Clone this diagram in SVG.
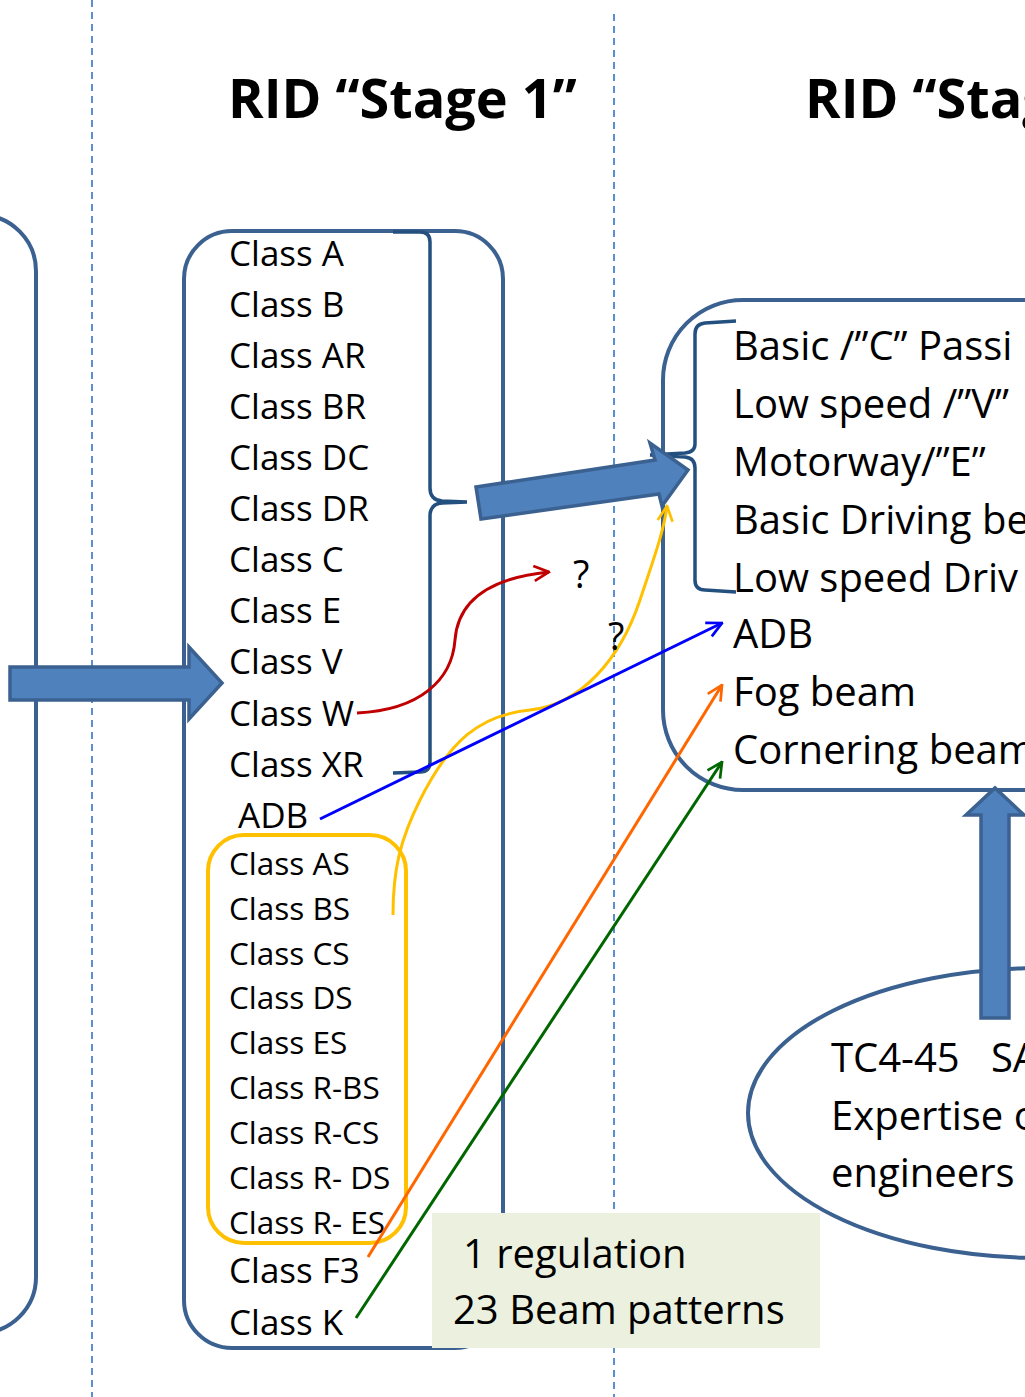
<svg xmlns="http://www.w3.org/2000/svg" width="1025" height="1397" viewBox="0 0 1025 1397">
<style>
.frame{fill:none;stroke:#3b6191;stroke-width:4}
.brace{fill:none;stroke:#24507f;stroke-width:3.5}
.dash{stroke:#5b8fd0;stroke-width:2;stroke-dasharray:7 5}
.block{fill:#4f81bd;stroke:#3b6191;stroke-width:3.5;stroke-linejoin:miter}
.t{font-family:"Open Sans","Noto Sans",sans-serif;fill:#000}
.l1{font-size:35px}
.l2{font-size:31.5px}
.r{font-size:40px}
.title{font-family:"Open Sans","Noto Sans",sans-serif;font-weight:bold;font-size:54px;fill:#000}
.con{fill:none;stroke-width:3}
</style>
<defs>
<marker id="aRed" viewBox="0 0 12 12" refX="11" refY="6" markerWidth="18" markerHeight="18" markerUnits="userSpaceOnUse" orient="auto"><path d="M1,1 L11,6 L1,11" fill="none" stroke="#c00000" stroke-width="1.8"/></marker>
<marker id="aYel" viewBox="0 0 12 12" refX="11" refY="6" markerWidth="18" markerHeight="18" markerUnits="userSpaceOnUse" orient="auto"><path d="M1,1 L11,6 L1,11" fill="none" stroke="#ffc000" stroke-width="1.8"/></marker>
<marker id="aBlu" viewBox="0 0 12 12" refX="11" refY="6" markerWidth="18" markerHeight="18" markerUnits="userSpaceOnUse" orient="auto"><path d="M1,1 L11,6 L1,11" fill="none" stroke="#0000ff" stroke-width="1.8"/></marker>
<marker id="aOra" viewBox="0 0 12 12" refX="11" refY="6" markerWidth="18" markerHeight="18" markerUnits="userSpaceOnUse" orient="auto"><path d="M1,1 L11,6 L1,11" fill="none" stroke="#ff6600" stroke-width="1.8"/></marker>
<marker id="aGrn" viewBox="0 0 12 12" refX="11" refY="6" markerWidth="18" markerHeight="18" markerUnits="userSpaceOnUse" orient="auto"><path d="M1,1 L11,6 L1,11" fill="none" stroke="#006600" stroke-width="1.8"/></marker>
</defs>
<rect width="1025" height="1397" fill="#fff"/>

<g id="dividers">
<line class="dash" x1="92" y1="0" x2="92" y2="1397"/>
<line class="dash" x1="614" y1="14" x2="614" y2="1397"/>
</g>

<g id="titles">
<text class="title" x="228" y="118">RID “Stage 1”</text>
<text class="title" x="805" y="118">RID “Stag</text>
</g>

<g id="stage0-box">
<rect class="frame" x="-120" y="215" width="156" height="1118" rx="56"/>
</g>

<g id="stage1-box">
<rect class="frame" x="184" y="231" width="319" height="1117" rx="48"/>
<path class="brace" d="M393,232 L420,232 Q430,232 430,242 L430,488 Q430,500 442,501 L467,502 M467,502 L442,503 Q430,504 430,516 L430,762 Q430,772 420,772 L393,773"/>
<text class="t l1" x="229" y="266">Class A</text>
<text class="t l1" x="229" y="317">Class B</text>
<text class="t l1" x="229" y="368">Class AR</text>
<text class="t l1" x="229" y="419">Class BR</text>
<text class="t l1" x="229" y="470">Class DC</text>
<text class="t l1" x="229" y="521">Class DR</text>
<text class="t l1" x="229" y="572">Class C</text>
<text class="t l1" x="229" y="623">Class E</text>
<text class="t l1" x="229" y="674">Class V</text>
<text class="t l1" x="229" y="726">Class W</text>
<text class="t l1" x="229" y="777">Class XR</text>
<text class="t l1" x="238" y="828">ADB</text>
<text class="t l1" x="229" y="1283">Class F3</text>
<text class="t l1" x="229" y="1335">Class K</text>
</g>

<g id="stage1-subgroup">
<rect x="208" y="835" width="198" height="408" rx="36" fill="none" stroke="#ffc000" stroke-width="4"/>
<text class="t l2" x="229" y="875">Class AS</text>
<text class="t l2" x="229" y="920">Class BS</text>
<text class="t l2" x="229" y="965">Class CS</text>
<text class="t l2" x="229" y="1009">Class DS</text>
<text class="t l2" x="229" y="1054">Class ES</text>
<text class="t l2" x="229" y="1099">Class R-BS</text>
<text class="t l2" x="229" y="1144">Class R-CS</text>
<text class="t l2" x="229" y="1189">Class R- DS</text>
<text class="t l2" x="229" y="1234">Class R- ES</text>
</g>

<g id="stage2-box">
<rect class="frame" x="663" y="300" width="520" height="490" rx="80"/>
<path class="brace" d="M736,321 L705,323 Q695,324 695,334 L695,444 Q695,452 685,453 L650,455 M650,455 L685,457 Q695,458 695,468 L695,580 Q695,590 705,590 L736,592"/>
<text class="t r" x="733" y="360">Basic /”C” Passi</text>
<text class="t r" x="733" y="418">Low speed /”V”</text>
<text class="t r" x="733" y="476">Motorway/”E”</text>
<text class="t r" x="733" y="534">Basic Driving be</text>
<text class="t r" x="733" y="592">Low speed Driv</text>
<text class="t r" x="733" y="648">ADB</text>
<text class="t r" x="733" y="706">Fog beam</text>
<text class="t r" x="733" y="764">Cornering beam</text>
</g>

<g id="tc-ellipse">
<ellipse cx="1040" cy="1113" rx="292" ry="145" fill="none" stroke="#3b6191" stroke-width="4"/>
<text class="t r" x="831" y="1072" xml:space="preserve">TC4-45   SA</text>
<text class="t r" x="831" y="1130">Expertise o</text>
<text class="t r" x="831" y="1187">engineers</text>
</g>

<g id="summary-note">
<rect x="432" y="1213" width="388" height="135" fill="#ebf1de"/>
<text class="t r" x="463" y="1268">1 regulation</text>
<text class="t r" x="453" y="1324">23 Beam patterns</text>
</g>

<g id="connectors">
<path class="block" d="M10,667 L189,667 L189,647 L222,683 L189,719 L189,700 L10,700 Z"/>
<path class="block" d="M476,487 L655,460 L650,443 L688,470 L662,506 L659,494 L481,519 Z"/>
<path class="block" d="M981,1018 L981,815 L966,815 L995,788 L1024,815 L1009,815 L1009,1018 Z"/>
<path class="con" stroke="#c00000" d="M357,713 C420,710 452,680 455,640 C458,600 490,578 549,572" marker-end="url(#aRed)"/>
<path class="con" stroke="#ffc000" d="M393,915 C393,870 400,840 420,800 C450,740 480,715 530,710 C580,705 620,660 640,600 C655,555 664,530 667,506" marker-end="url(#aYel)"/>
<line class="con" stroke="#0000ff" x1="320" y1="819" x2="722" y2="623" marker-end="url(#aBlu)"/>
<line class="con" stroke="#ff6600" x1="368" y1="1257" x2="722" y2="685" marker-end="url(#aOra)"/>
<line class="con" stroke="#006600" x1="356" y1="1318" x2="722" y2="762" marker-end="url(#aGrn)"/>
<text class="t" x="573" y="588" font-size="38">?</text>
<text class="t" x="608" y="650" font-size="38">?</text>
</g>
</svg>
